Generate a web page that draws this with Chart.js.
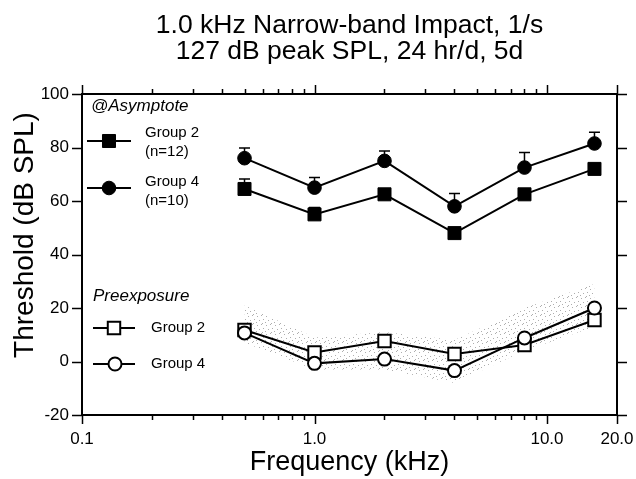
<!DOCTYPE html>
<html>
<head>
<meta charset="utf-8">
<title>Threshold vs Frequency</title>
<script src="https://cdn.jsdelivr.net/npm/chart.js@4.4.1/dist/chart.umd.min.js"></script>
<style>
  html, body { margin: 0; padding: 0; background: #fff; }
  #chart { display: block; }
</style>
</head>
<body>
<canvas id="chart" width="636" height="479"></canvas>
<script>
// ---- data ----
const freqs = [0.5, 1, 2, 4, 8, 16];

// thresholds at asymptote (dB SPL) and upward SEM
const asymGroup2 = [64.5, 55, 62.5, 48, 62.5, 72];
const asymGroup2Sem = [3.7, 2.6, 2, 1.5, 2, 2];
const asymGroup4 = [76, 65, 75, 58, 72.5, 81.5];
const asymGroup4Sem = [3.8, 3.8, 3.7, 4.8, 5.6, 4.2];

// preexposure thresholds
const preGroup2 = [11.8, 3.4, 7.7, 2.8, 6.2, 15.5];
const preGroup4 = [10.7, -0.7, 0.9, -3.4, 8.8, 20];

// normative preexposure range (stippled band)
const normHigh = [21, 9, 11, 8, 20, 29];
const normLow = [7, -3, -3, -8, 4, 13];

// axes
const titleLines = ['1.0 kHz Narrow-band Impact, 1/s', '127 dB peak SPL, 24 hr/d, 5d'];
const xTickValues = [0.1, 1, 10, 20];
const xTickLabels = ['0.1', '1.0', '10.0', '20.0'];
const xMinorTicks = [0.2, 0.3, 0.4, 0.5, 0.6, 0.7, 0.8, 0.9, 2, 3, 4, 5, 6, 7, 8, 9];
const yTickValues = [-20, 0, 20, 40, 60, 80, 100];

const FONT = '"Liberation Sans", Arial, Helvetica, sans-serif';

const pts = ys => freqs.map((f, i) => ({ x: f, y: ys[i] }));

// sparse grey dots for the normative band
function makeStipple(ctx) {
    const c = document.createElement('canvas');
    c.width = 9;
    c.height = 9;
    const g = c.getContext('2d');
    g.fillStyle = 'rgba(120,120,120,0.6)';
    [[0, 0], [5, 1], [2, 4], [7, 5], [4, 7], [1, 8]].forEach(([px, py]) => g.fillRect(px, py, 1, 1));
    return ctx.createPattern(c, 'repeat');
}

// ---- plugins ----
const errorBars = {
    id: 'errorBars',
    beforeDatasetsDraw(chart) {
        const { ctx, scales: { x, y } } = chart;
        ctx.save();
        ctx.strokeStyle = '#000';
        ctx.lineWidth = 1.5;
        ctx.beginPath();
        [[asymGroup2, asymGroup2Sem], [asymGroup4, asymGroup4Sem]].forEach(([vals, sem]) => {
            freqs.forEach((f, i) => {
                const px = x.getPixelForValue(f);
                const py = y.getPixelForValue(vals[i]);
                const top = y.getPixelForValue(vals[i] + sem[i]);
                ctx.moveTo(px, py);
                ctx.lineTo(px, top);
                ctx.moveTo(px - 5.5, top);
                ctx.lineTo(px + 5.5, top);
            });
        });
        ctx.stroke();
        ctx.restore();
    }
};

const frameTicks = {
    id: 'frameTicks',
    afterDatasetsDraw(chart) {
        const { ctx, chartArea: a, scales: { x, y } } = chart;
        ctx.save();
        ctx.strokeStyle = '#000';
        ctx.lineWidth = 2;
        ctx.strokeRect(a.left, a.top, a.right - a.left, a.bottom - a.top);

        ctx.lineWidth = 1.5;
        ctx.beginPath();
        const xTick = (v, len) => {
            const px = Math.round(x.getPixelForValue(v)) + 0.5;
            ctx.moveTo(px, a.bottom);
            ctx.lineTo(px, a.bottom + len);
            ctx.moveTo(px, a.top);
            ctx.lineTo(px, a.top - len);
        };
        xMinorTicks.forEach(v => xTick(v, 5));
        xTickValues.forEach(v => xTick(v, 9));
        yTickValues.forEach(v => {
            const py = Math.round(y.getPixelForValue(v)) + 0.5;
            ctx.moveTo(a.left, py);
            ctx.lineTo(a.left - 10, py);
            ctx.moveTo(a.right, py);
            ctx.lineTo(a.right + 10, py);
        });
        ctx.stroke();

        // y axis title
        ctx.fillStyle = '#000';
        ctx.font = '28px ' + FONT;
        ctx.textAlign = 'center';
        ctx.textBaseline = 'middle';
        ctx.translate(25, 235);
        ctx.rotate(-Math.PI / 2);
        ctx.fillText('Threshold (dB SPL)', 0, 0);
        ctx.restore();
    }
};

const groupLegend = {
    id: 'groupLegend',
    afterDraw(chart) {
        const { ctx } = chart;
        const ds = chart.data.datasets;
        ctx.save();
        ctx.fillStyle = '#000';
        ctx.textBaseline = 'middle';
        ctx.textAlign = 'left';

        const sample = (d, x0, x1, cx, cy) => {
            ctx.strokeStyle = '#000';
            ctx.lineWidth = 2;
            ctx.beginPath();
            ctx.moveTo(x0, cy);
            ctx.lineTo(x1, cy);
            ctx.stroke();
            ctx.fillStyle = d.pointBackgroundColor;
            ctx.strokeStyle = d.pointBorderColor;
            ctx.lineWidth = d.pointBorderWidth;
            Chart.helpers.drawPoint(ctx, {
                pointStyle: d.pointStyle, radius: d.pointRadius, rotation: 0, borderWidth: d.pointBorderWidth
            }, cx, cy);
            ctx.fillStyle = '#000';
        };

        ctx.font = 'italic 17px ' + FONT;
        ctx.fillText('@Asymptote', 91, 106);
        ctx.fillText('Preexposure', 93, 296);

        sample(ds[0], 87, 131, 109, 141);
        sample(ds[1], 87, 131, 109, 188);
        sample(ds[2], 93, 135, 114, 328);
        sample(ds[3], 93, 135, 115, 364);

        ctx.font = '15px ' + FONT;
        ctx.fillText('Group 2', 145, 133);
        ctx.fillText('(n=12)', 145, 152);
        ctx.fillText('Group 4', 145, 182);
        ctx.fillText('(n=10)', 145, 201);
        ctx.fillText('Group 2', 151, 328);
        ctx.fillText('Group 4', 151, 364);
        ctx.restore();
    }
};

// ---- chart ----
const canvas = document.getElementById('chart');
const stipple = makeStipple(canvas.getContext('2d'));

const lineBase = { showLine: true, borderColor: '#000', borderWidth: 2, tension: 0, pointBorderColor: '#000' };

new Chart(canvas, {
    type: 'scatter',
    data: {
        datasets: [
            { ...lineBase, label: 'Group 2 (n=12)', data: pts(asymGroup2), pointStyle: 'rect', pointRadius: 9.2,
              pointBackgroundColor: '#000', pointBorderWidth: 1, order: 1 },
            { ...lineBase, label: 'Group 4 (n=10)', data: pts(asymGroup4), pointStyle: 'circle', pointRadius: 6.8,
              pointBackgroundColor: '#000', pointBorderWidth: 1, order: 1 },
            { ...lineBase, label: 'Group 2', data: pts(preGroup2), pointStyle: 'rect', pointRadius: 8.8,
              pointBackgroundColor: '#fff', pointBorderWidth: 2, order: 2 },
            { ...lineBase, label: 'Group 4', data: pts(preGroup4), pointStyle: 'circle', pointRadius: 6.5,
              pointBackgroundColor: '#fff', pointBorderWidth: 2, order: 1 },
            { label: 'range high', data: pts(normHigh), showLine: true, borderWidth: 0, pointRadius: 0,
              backgroundColor: stipple, fill: '+1', order: 10 },
            { label: 'range low', data: pts(normLow), showLine: true, borderWidth: 0, pointRadius: 0,
              order: 10 }
        ]
    },
    options: {
        responsive: false,
        animation: false,
        devicePixelRatio: 1,
        events: [],
        layout: { padding: { top: 0, right: 19, bottom: 0, left: 0 } },
        plugins: {
            legend: { display: false },
            tooltip: { enabled: false },
            title: {
                display: true,
                fullSize: false,
                text: titleLines,
                color: '#000',
                font: { family: FONT, size: 26.5, weight: 'normal', lineHeight: 1 },
                padding: { top: 12, bottom: 29 }
            }
        },
        scales: {
            x: {
                type: 'logarithmic',
                min: 0.1,
                max: 20,
                afterBuildTicks: s => { s.ticks = xTickValues.concat(xMinorTicks).sort((a, b) => a - b).map(v => ({ value: v })); },
                afterFit: s => { s.height = 64; s.paddingLeft = 0; s.paddingRight = 0; },
                grid: { display: false, drawTicks: false },
                border: { display: false },
                ticks: {
                    autoSkip: false,
                    maxRotation: 0,
                    padding: 14,
                    color: '#000',
                    font: { family: FONT, size: 17 },
                    callback: v => {
                        const i = xTickValues.indexOf(v);
                        return i >= 0 ? xTickLabels[i] : '';
                    }
                },
                title: {
                    display: true,
                    text: 'Frequency (kHz)',
                    color: '#000',
                    font: { family: FONT, size: 27 },
                    padding: { top: 0, bottom: 0 }
                }
            },
            y: {
                min: -20,
                max: 100,
                afterBuildTicks: s => { s.ticks = yTickValues.map(v => ({ value: v })); },
                afterFit: s => { s.width = 82; },
                grid: { display: false, drawTicks: false },
                border: { display: false },
                ticks: {
                    padding: 13,
                    color: '#000',
                    font: { family: FONT, size: 17 }
                }
            }
        }
    },
    plugins: [errorBars, frameTicks, groupLegend]
});
</script>
</body>
</html>
